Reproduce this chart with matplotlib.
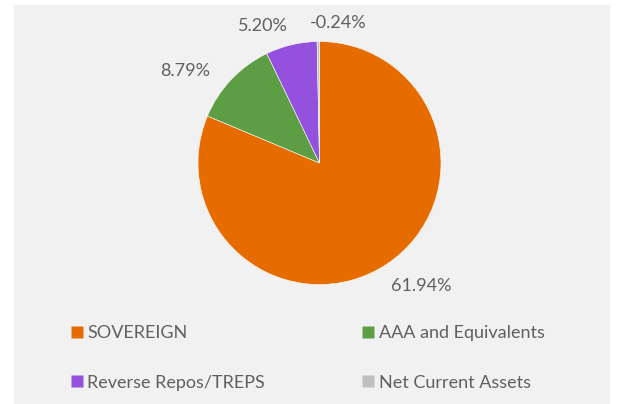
import numpy as np
import matplotlib
matplotlib.use("Agg")
from matplotlib import pyplot as plt
from matplotlib.lines import Line2D

plt.rcParams['font.family'] = ['Lato', 'DejaVu Sans']

# data
categories = ['SOVEREIGN', 'AAA and Equivalents', 'Reverse Repos/TREPS', 'Net Current Assets']
values = [61.94, 8.79, 5.20, -0.24]
colors = ['#E66C00', '#5D9E44', '#9451DE', '#BFBFBF']
# label placement tweaks (angle shift in degrees, radius factor)
label_shift = [6.0, 9.0, 9.0, -8.0]
label_rad = [1.31, 1.34, 1.22, 1.16]

fig = plt.figure(figsize=(6.21, 4.04), dpi=100)
fig.patch.set_facecolor('white')
# grey chart panel
fig.add_artist(plt.Rectangle((14/621, 0), (610-14)/621, (404-5)/404,
                             transform=fig.transFigure, facecolor='#F1F1F1',
                             edgecolor='none', zorder=0))

cx, cy, r = 319.5, 163.0, 121.5
ax = fig.add_axes([(cx - r)/621, (404 - cy - r)/404, 2*r/621, 2*r/404])
sizes = np.abs(values)
wedges, _ = ax.pie(sizes, colors=colors, startangle=90, counterclock=False,
                   wedgeprops=dict(edgecolor='white', linewidth=0.4))
ax.set_xlim(-1, 1)
ax.set_ylim(-1, 1)
ax.set_aspect('equal')
ax.axis('off')

for w, v, sh, rf in zip(wedges, values, label_shift, label_rad):
    mid = np.deg2rad((w.theta1 + w.theta2)/2 + sh)
    ax.text(rf*np.cos(mid), rf*np.sin(mid), '%.2f%%' % v, ha='center', va='center',
            fontsize=13, color='#606060', clip_on=False)

handles = [Line2D([], [], marker='s', linestyle='none', markersize=8,
                  markerfacecolor=c, markeredgecolor='none') for c in colors]
# legend fills column by column, so reorder to get row-wise layout
order = [0, 2, 1, 3]
leg = fig.legend([handles[i] for i in order], [categories[i] for i in order],
                 ncol=2, loc='upper left',
                 bbox_to_anchor=(64/621, 1 - 318/404), frameon=False,
                 fontsize=13, handlelength=0.6, handletextpad=0.3,
                 columnspacing=5.4, labelspacing=1.85, borderaxespad=0)
for t in leg.get_texts():
    t.set_color('#606060')

fig.savefig('out.png', dpi=100)
